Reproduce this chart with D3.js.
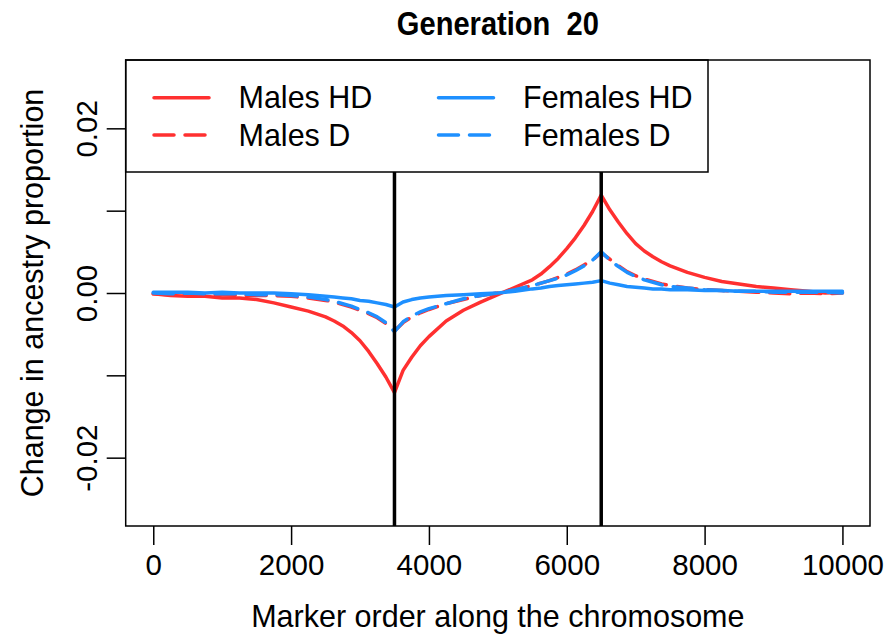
<html>
<head>
<style>
  body { margin: 0; background: white; }
  svg text { font-family: "Liberation Sans", Arial, Helvetica, sans-serif; fill: black; }
</style>
<script src="https://cdn.jsdelivr.net/npm/d3@7"></script>
</head>
<body>
<svg id="chart"></svg>
<script>
// marker positions along the chromosome (denser near the two loci)
let markers = [0, 250, 500, 750, 1000, 1250, 1500, 1750, 2000, 2250, 2500,
  2625, 2750, 2875, 3000, 3125, 3250, 3375, 3500, 3625, 3750, 3875, 4000,
  4250, 4500, 4750, 5000, 5250, 5500,
  5625, 5750, 5875, 6000, 6125, 6250, 6375, 6500, 6625, 6750, 6875, 7000, 7125, 7250, 7375, 7500,
  7750, 8000, 8250, 8500, 8750, 9000, 9250, 9500, 9750, 10000]

let malesHD = [-0.0001, -0.0003, -0.0004, -0.0004, -0.0006, -0.0006, -0.0008, -0.0012, -0.0017, -0.0022, -0.0029,
  -0.0034, -0.0040, -0.0048, -0.0058, -0.0071, -0.0086, -0.0102, -0.0121, -0.0094, -0.0078, -0.0064, -0.0053,
  -0.0034, -0.0021, -0.0011, -0.0002, 0.0007, 0.0016,
  0.0023, 0.0032, 0.0042, 0.0054, 0.0067, 0.0082, 0.0099, 0.0119, 0.0101, 0.0086, 0.0072, 0.0060, 0.0051, 0.0044, 0.0038, 0.0033,
  0.0025, 0.0019, 0.0014, 0.0011, 0.0008, 0.0006, 0.0004, 0.0002, 0.0000, 0.0001]

let malesD = [-0.0001, -0.0002, -0.0001, -0.0002, -0.0002, -0.0003, -0.0003, -0.0003, -0.0004, -0.0006, -0.0009,
  -0.0011, -0.0014, -0.0017, -0.0021, -0.0025, -0.0030, -0.0037, -0.0046, -0.0036, -0.0029, -0.0024, -0.0020,
  -0.0013, -0.0008, -0.0003, 0.0000, 0.0004, 0.0009,
  0.0012, 0.0015, 0.0019, 0.0023, 0.0028, 0.0034, 0.0040, 0.0049, 0.0041, 0.0033, 0.0026, 0.0021, 0.0017, 0.0014, 0.0011, 0.0009,
  0.0006, 0.0004, 0.0003, 0.0002, 0.0001, 0.0000, -0.0001, 0.0000, -0.0001, 0.0000]

let femalesHD = [0.0001, 0.0001, 0.0001, 0.0000, 0.0001, 0.0000, 0.0000, 0.0000, -0.0001, -0.0002, -0.0004,
  -0.0005, -0.0006, -0.0007, -0.0009, -0.0010, -0.0012, -0.0014, -0.0017, -0.0011, -0.0008, -0.0006, -0.0005,
  -0.0003, -0.0002, -0.0001, 0.0000, 0.0002, 0.0005,
  0.0006, 0.0008, 0.0009, 0.0010, 0.0011, 0.0012, 0.0013, 0.0015, 0.0012, 0.0010, 0.0008, 0.0007, 0.0006, 0.0005, 0.0005, 0.0004,
  0.0004, 0.0003, 0.0003, 0.0002, 0.0002, 0.0002, 0.0002, 0.0002, 0.0002, 0.0002]

let femalesD = [0.0000, -0.0001, 0.0000, -0.0001, -0.0001, -0.0001, -0.0002, -0.0002, -0.0003, -0.0005, -0.0008,
  -0.0010, -0.0013, -0.0016, -0.0020, -0.0024, -0.0029, -0.0036, -0.0047, -0.0035, -0.0028, -0.0023, -0.0019,
  -0.0013, -0.0007, -0.0003, 0.0000, 0.0004, 0.0009,
  0.0012, 0.0015, 0.0018, 0.0022, 0.0027, 0.0033, 0.0040, 0.0050, 0.0040, 0.0032, 0.0025, 0.0020, 0.0016, 0.0013, 0.0010, 0.0008,
  0.0006, 0.0004, 0.0003, 0.0002, 0.0002, 0.0001, 0.0001, 0.0001, 0.0001, 0.0000]

let seriesNames = ["Males HD", "Males D", "Females HD", "Females D"]
let seriesColors = ["#FF3030", "#FF3030", "#1E90FF", "#1E90FF"]
let seriesDashed = [false, true, false, true]

let xTicks = [0, 2000, 4000, 6000, 8000, 10000]
let yTicks = [-0.02, -0.01, 0, 0.01, 0.02]
let yTickLabels = ["-0.02", "", "0.00", "", "0.02"]
let breakpoints = [3500, 6500]

let width = 892, height = 639
let plot = {left: 125.7, right: 870, top: 60, bottom: 526}
let fontSize = 29.5

let svg = d3.select("#chart").attr("width", width).attr("height", height)

let x = d3.scaleLinear().domain([-400, 10400]).range([plot.left, plot.right])
let y = d3.scaleLinear().domain([-0.0283, 0.0283]).range([plot.bottom, plot.top])

// curves
let allSeries = [malesHD, malesD, femalesHD, femalesD]
let line = d3.line()
  .x(function(d, i) { return x(markers[i]) })
  .y(function(d) { return y(d) })

svg.append("g").selectAll("path")
  .data(allSeries)
  .enter()
  .append("path")
  .attr("d", line)
  .attr("fill", "none")
  .attr("stroke", function(d, i) { return seriesColors[i] })
  .attr("stroke-width", 3.5)
  .attr("stroke-linejoin", "round")
  .attr("stroke-linecap", "round")
  .attr("stroke-dasharray", function(d, i) { return seriesDashed[i] ? "20,11" : null })

// vertical lines at the selected loci
svg.append("g").selectAll("line")
  .data(breakpoints)
  .enter()
  .append("line")
  .attr("x1", function(d) { return x(d) })
  .attr("x2", function(d) { return x(d) })
  .attr("y1", plot.top)
  .attr("y2", plot.bottom)
  .attr("stroke", "black")
  .attr("stroke-width", 3.5)

// x axis
let xAxis = svg.append("g")
  .attr("transform", "translate(0," + plot.bottom + ")")
  .call(d3.axisBottom(x).tickValues(xTicks).tickSize(19).tickFormat(d3.format("d")))
xAxis.select(".domain").remove()
xAxis.selectAll("line").attr("stroke-width", 1.5)
xAxis.selectAll("text")
  .attr("y", 49).attr("dy", null)
  .style("font-size", fontSize + "px")
  .style("font-family", "'Liberation Sans', Arial, sans-serif")

// y axis, labels rotated like R
let yAxis = svg.append("g")
  .attr("transform", "translate(" + plot.left + ",0)")
  .call(d3.axisLeft(y).tickValues(yTicks).tickSize(19).tickFormat(function(d, i) { return yTickLabels[i] }))
yAxis.select(".domain").remove()
yAxis.selectAll("line").attr("stroke-width", 1.5)
yAxis.selectAll("text")
  .attr("x", null).attr("dy", null)
  .attr("text-anchor", "middle")
  .attr("transform", "translate(-28.5,0) rotate(-90)")
  .style("font-size", fontSize + "px")
  .style("font-family", "'Liberation Sans', Arial, sans-serif")

// legend (white box covers the vertical lines)
let legend = svg.append("g")
legend.append("rect")
  .attr("x", plot.left).attr("y", plot.top)
  .attr("width", 708 - plot.left).attr("height", 172 - plot.top)
  .attr("fill", "white").attr("stroke", "black").attr("stroke-width", 1.5)

let legendPos = [
  {lx: 154, ty: 97.7}, {lx: 154, ty: 135},
  {lx: 438.5, ty: 97.7}, {lx: 438.5, ty: 135}
]
let items = legend.selectAll(".item")
  .data(seriesNames)
  .enter()
  .append("g")
  .attr("class", "item")
  .attr("transform", function(d, i) { return "translate(" + legendPos[i].lx + "," + legendPos[i].ty + ")" })

items.append("line")
  .attr("x1", 0).attr("x2", 55)
  .attr("stroke", function(d, i) { return seriesColors[i] })
  .attr("stroke-width", 3.5)
  .attr("stroke-linecap", "round")
  .attr("stroke-dasharray", function(d, i) { return seriesDashed[i] ? "20,11" : null })

items.append("text")
  .attr("x", 84.5)
  .attr("y", 10.7)
  .style("font-size", "30.5px")
  .text(function(d) { return d })

// frame
svg.append("rect")
  .attr("x", plot.left).attr("y", plot.top)
  .attr("width", plot.right - plot.left).attr("height", plot.bottom - plot.top)
  .attr("fill", "none").attr("stroke", "black").attr("stroke-width", 1.5)

// titles
svg.append("text")
  .attr("x", (plot.left + plot.right) / 2)
  .attr("y", 35)
  .attr("text-anchor", "middle")
  .attr("textLength", 202)
  .attr("lengthAdjust", "spacingAndGlyphs")
  .style("font-size", "34px")
  .style("font-weight", "bold")
  .style("white-space", "pre")
  .text("Generation  20")

svg.append("text")
  .attr("x", (plot.left + plot.right) / 2)
  .attr("y", 627)
  .attr("text-anchor", "middle")
  .style("font-size", "30.5px")
  .text("Marker order along the chromosome")

svg.append("text")
  .attr("transform", "translate(43," + (plot.top + plot.bottom) / 2 + ") rotate(-90)")
  .attr("text-anchor", "middle")
  .style("font-size", "30.5px")
  .text("Change in ancestry proportion")
</script>
</body>
</html>
